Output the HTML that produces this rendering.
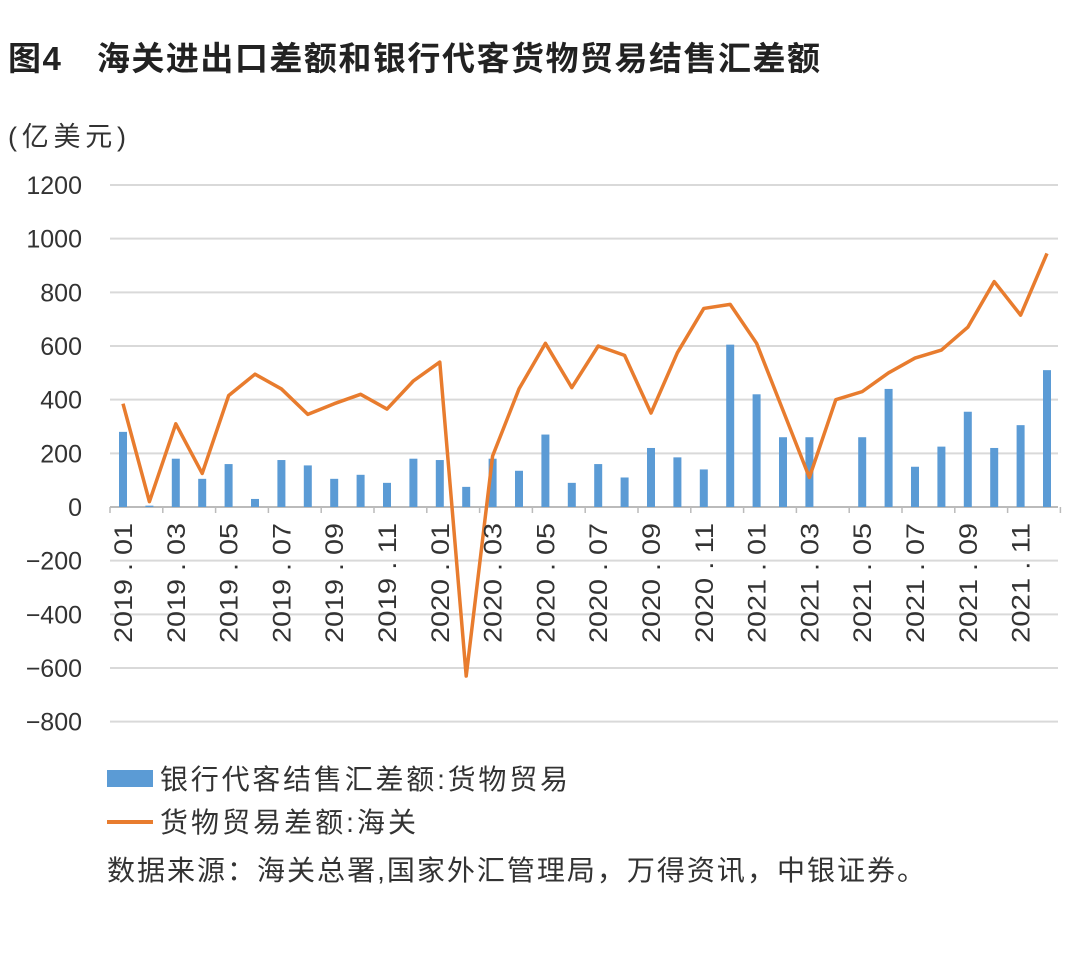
<!DOCTYPE html>
<html><head><meta charset="utf-8"><style>
body{margin:0;background:#fff;width:1080px;height:963px;overflow:hidden;font-family:"Liberation Sans","Noto Sans CJK SC",sans-serif}
</style></head><body>
<svg width="1080" height="963" id="c" font-family="Liberation Sans, Noto Sans CJK SC, sans-serif">
<text x="8" y="70" font-size="33" font-weight="bold" fill="#222" textLength="812" lengthAdjust="spacing">图4　海关进出口差额和银行代客货物贸易结售汇差额</text>
<text x="8" y="146" font-size="27" fill="#333" textLength="118" lengthAdjust="spacing">(亿美元)</text>
<g id="grid"></g><g id="bars"></g><g id="line"></g><g id="xl"></g>
<rect x="107" y="770" width="46" height="17" fill="#5b9bd5"/>
<text x="160" y="789" font-size="28" fill="#333" textLength="408" lengthAdjust="spacing">银行代客结售汇差额:货物贸易</text>
<line x1="107" y1="822" x2="153" y2="822" stroke="#e87c2e" stroke-width="4"/>
<text x="160" y="832" font-size="28" fill="#333" textLength="256" lengthAdjust="spacing">货物贸易差额:海关</text>
<text x="107" y="880" font-size="28" fill="#333" textLength="818" lengthAdjust="spacing">数据来源：海关总署,国家外汇管理局，万得资讯，中银证券。</text>
</svg>
<script>
const yTicks=[1200,1000,800,600,400,200,0,-200,-400,-600,-800];
const months=[];
for(const y of [2019,2020,2021])for(let m=1;m<=12;m++)months.push(y+' . '+String(m).padStart(2,'0'));
const barVals=[280,5,180,105,160,30,175,155,105,120,90,180,175,75,180,135,270,90,160,110,220,185,140,605,420,260,260,0,260,440,150,225,355,220,305,510];
const lineVals=[385,20,310,125,415,495,440,345,385,420,365,470,540,-630,190,440,610,445,600,565,350,575,740,755,610,360,110,400,430,500,555,585,670,840,715,945];
const NS='http://www.w3.org/2000/svg';
const yS=v=>507-v*(507-185)/1200;
const xS=i=>123+i*26.4;
function mk(t,a,p){const e=document.createElementNS(NS,t);for(const k in a)e.setAttribute(k,a[k]);p.appendChild(e);return e;}
const G=document.getElementById('grid');
yTicks.forEach(v=>{
 const l=mk('line',{x1:110,x2:1058,y1:yS(v),y2:yS(v),stroke:v===0?'#bbb':'#d9d9d9','stroke-width':2},G);
 
 
 const t=mk('text',{x:82,y:yS(v)+9,'font-size':25,'text-anchor':'end',fill:'#333'},G);
 t.textContent=v<0?'−'+(-v):v;
 
 
});
for(let i=0;i<=36;i+=2){const tk=mk('line',{x1:xS(i)-13,x2:xS(i)-13,y1:507,y2:513,stroke:'#bbb','stroke-width':1.5},G);
 
 }
const B=document.getElementById('bars');
barVals.forEach((v,i)=>{if(!v)return;const r=mk('rect',{x:xS(i)-4,width:8,y:Math.min(yS(v),507),height:Math.abs(507-yS(v)),fill:'#5b9bd5'},B);
 
 });
const p=mk('polyline',{points:lineVals.map((v,i)=>xS(i)+','+yS(v)).join(' '),fill:'none',stroke:'#e87c2e','stroke-width':3.5,'stroke-linejoin':'round'},document.getElementById('line'));


const X=document.getElementById('xl');
months.forEach((m,i)=>{if(i%2)return;const x=xS(i)+9,y=643;
 const t=mk('text',{x:x,y:y,'font-size':25,fill:'#333',transform:`rotate(-90 ${x} ${y})`,textLength:120,lengthAdjust:'spacingAndGlyphs'},X);
 t.textContent=m;
 
 });
</script>
</body></html>
